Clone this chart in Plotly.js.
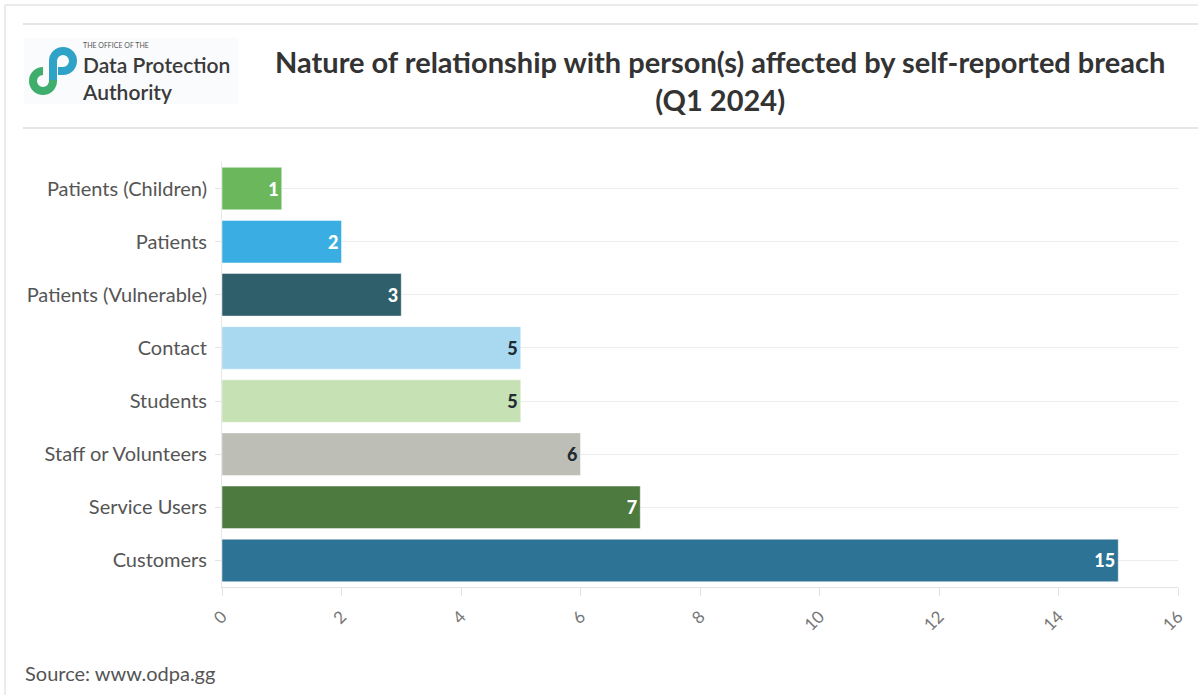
<!DOCTYPE html>
<html>
<head>
<meta charset="utf-8">
<script src="https://cdn.plot.ly/plotly-3.0.1.min.js"></script>
<style>
  html, body { margin: 0; padding: 0; background: #fff; }
  #chart { width: 1198px; height: 695px; }
</style>
</head>
<body>
<div id="chart"></div>
<script>
// Breach reports by relationship type, listed top to bottom
const categories = [
  "Patients (Children)",
  "Patients",
  "Patients (Vulnerable)",
  "Contact",
  "Students",
  "Staff or Volunteers",
  "Service Users",
  "Customers"
];
const counts = [1, 2, 3, 5, 5, 6, 7, 15];
const barColors = ["#6bb85c", "#3aaee2", "#2e5f6b", "#a8d9f1", "#c6e1b4", "#bdbeb6", "#4c7a3f", "#2c7395"];
const labelColors = ["#ffffff", "#ffffff", "#ffffff", "#1f2a33", "#1f2a33", "#1f2a33", "#ffffff", "#ffffff"];
const xTicks = [0, 2, 4, 6, 8, 10, 12, 14, 16];

const W = 1198, H = 695;
const M = { l: 222, r: 20, t: 162, b: 108 };
const PW = W - M.l - M.r, PH = H - M.t - M.b;
const fx = px => (px - M.l) / PW;          // page pixel -> paper x
const fy = py => (H - M.b - py) / PH;      // page pixel -> paper y

const FONT = "Lato, 'Noto Sans', sans-serif";

// Logo mark: two looped strokes drawn in page pixels
const pixelShape = (path, color, width) => ({
  type: "path", xref: "paper", yref: "paper",
  xsizemode: "pixel", ysizemode: "pixel",
  xanchor: fx(0), yanchor: fy(0),
  path: path, line: { color: color, width: width }
});
// pixel shapes measure y upward from the anchor, so flip page y
const P = (x, y) => x + "," + (-y);
const k = 0.5523;
function circleArcs(cx, cy, r, parts) {
  // quarter arcs of a circle, named by start->end compass points
  const pts = {
    N: [cx, cy - r], E: [cx + r, cy], S: [cx, cy + r], W: [cx - r, cy]
  };
  const ctrl = {
    "N-E": [[cx + k * r, cy - r], [cx + r, cy - k * r]],
    "E-S": [[cx + r, cy + k * r], [cx + k * r, cy + r]],
    "S-W": [[cx - k * r, cy + r], [cx - r, cy + k * r]],
    "W-N": [[cx - r, cy - k * r], [cx - k * r, cy - r]],
    "N-W": [[cx - k * r, cy - r], [cx - r, cy - k * r]],
    "W-S": [[cx - r, cy + k * r], [cx - k * r, cy + r]],
    "S-E": [[cx + k * r, cy + r], [cx + r, cy + k * r]],
    "E-N": [[cx + r, cy - k * r], [cx + k * r, cy - r]]
  };
  let d = "";
  parts.forEach(p => {
    const b = p.split("-")[1];
    const c = ctrl[p];
    d += " C" + P(c[0][0], c[0][1]) + " " + P(c[1][0], c[1][1]) + " " + P(pts[b][0], pts[b][1]);
  });
  return d;
}
const tealPath = "M" + P(53, 80) + " L" + P(53, 61) + circleArcs(63, 61, 10, ["W-N", "N-E", "E-S"]) + " L" + P(58, 71);
const greenPath = "M" + P(43, 71) + circleArcs(43, 81, 10, ["N-W", "W-S", "S-E"]) + " L" + P(53, 79);

const trace = {
  type: "bar",
  orientation: "h",
  y: categories,
  x: counts,
  text: counts.map(String),
  textposition: "inside",
  insidetextanchor: "end",
  textangle: 0,
  constraintext: "none",
  textfont: { family: FONT, size: 18, color: labelColors, weight: 900 },
  marker: {
    color: barColors,
    line: { color: "rgba(255,255,255,0.45)", width: 1 }
  },
  hoverinfo: "none",
  cliponaxis: false
};

const layout = {
  width: W, height: H,
  margin: M,
  paper_bgcolor: "#ffffff",
  plot_bgcolor: "#ffffff",
  showlegend: false,
  bargap: 0.2,
  font: { family: FONT, color: "#555" },
  xaxis: {
    range: [0, 16],
    tickvals: xTicks,
    ticktext: xTicks.map(String),
    tickangle: -45,
    tickfont: { family: FONT, size: 17, color: "#777" },
    ticklabelstandoff: 4,
    showgrid: false,
    zeroline: false,
    showline: true,
    linecolor: "#e3e3e3",
    ticks: "outside",
    ticklen: 8,
    tickcolor: "#e3e3e3",
    fixedrange: true
  },
  yaxis: {
    autorange: "reversed",
    type: "category",
    tickfont: { family: FONT, size: 20, color: "#555" },
    ticklabelstandoff: 4,
    showgrid: true,
    gridcolor: "#ececec",
    showline: true,
    linecolor: "#e8e8e8",
    ticks: "outside",
    ticklen: 6,
    tickcolor: "#e3e3e3",
    zeroline: false,
    fixedrange: true
  },
  shapes: [
    // outer card border
    { type: "line", xref: "paper", yref: "paper", x0: fx(5), x1: fx(5), y0: fy(5), y1: fy(H), line: { color: "#e4e4e4", width: 1.5 } },
    { type: "line", xref: "paper", yref: "paper", x0: fx(5), x1: fx(W), y0: fy(5), y1: fy(5), line: { color: "#e4e4e4", width: 1.5 } },
    // header rules
    { type: "line", xref: "paper", yref: "paper", x0: fx(23), x1: fx(W), y0: fy(24), y1: fy(24), line: { color: "#dcdcdc", width: 1.5 } },
    { type: "line", xref: "paper", yref: "paper", x0: fx(23), x1: fx(W), y0: fy(128), y1: fy(128), line: { color: "#dcdcdc", width: 1.5 } },
    // logo backdrop
    { type: "rect", xref: "paper", yref: "paper", x0: fx(24), x1: fx(238), y0: fy(38), y1: fy(104), fillcolor: "#fafbfc", line: { width: 0 }, layer: "below" },
    pixelShape(greenPath, "#3fae6c", 8),
    pixelShape(tealPath, "#2ea3c7", 8)
  ],
  annotations: [
    { xref: "paper", yref: "paper", x: fx(720), y: fy(81), text: "<b>Nature of relationship with person(s) affected by self-reported breach</b><br><b>(Q1 2024)</b>",
      showarrow: false, xanchor: "center", yanchor: "middle", align: "center", font: { family: FONT, size: 29, color: "#333" } },
    { xref: "paper", yref: "paper", x: fx(81), y: fy(45), text: "THE OFFICE OF THE",
      showarrow: false, xanchor: "left", yanchor: "middle", font: { family: FONT, size: 7, color: "#555" } },
    { xref: "paper", yref: "paper", x: fx(80), y: fy(78), text: "Data Protection<br>Authority",
      showarrow: false, xanchor: "left", yanchor: "middle", align: "left", font: { family: FONT, size: 21, color: "#3a3a3a", weight: 600 } },
    { xref: "paper", yref: "paper", x: fx(23), y: fy(673), text: "Source: www.odpa.gg",
      showarrow: false, xanchor: "left", yanchor: "middle", font: { family: FONT, size: 20, color: "#555" } }
  ]
};

Plotly.newPlot("chart", [trace], layout, { displayModeBar: false, staticPlot: true });
</script>
</body>
</html>
